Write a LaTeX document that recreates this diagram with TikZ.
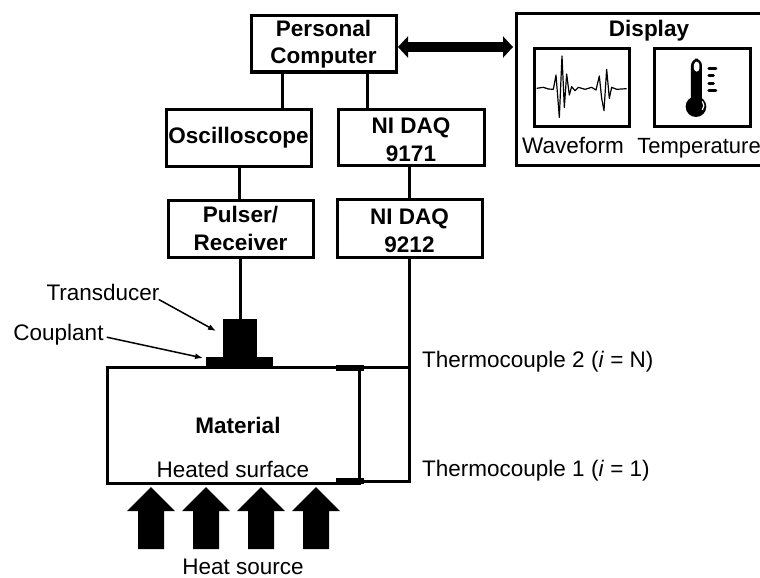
\documentclass[tikz,border=0pt]{standalone}
\usepackage{fontspec}
\setmainfont{Liberation Sans}
\usetikzlibrary{arrows.meta, calc}
\tikzset{
    lbl/.style={inner sep=0pt, font=\fontsize{22.5}{27}\selectfont, align=center},
    boxlbl/.style={lbl, font=\fontsize{22.5}{27}\selectfont\bfseries},
    blockbox/.style={draw, line width=3pt, fill=white, outer sep=0pt, inner sep=0pt, align=center, font=\fontsize{22.5}{27.5}\selectfont\bfseries},
    panelbox/.style={draw, line width=3pt, outer sep=0pt},
    wire/.style={line width=3pt},
    pointer/.style={line width=1.5pt, -{Latex[length=8pt,width=6pt]}},
    solidpart/.style={fill=black, inner sep=0pt, outer sep=0pt}
}
\begin{document}
\begin{tikzpicture}[x=1pt, y=-1pt]
    \clip (0,0) rectangle (760,578);
    % Instruments
    \node[blockbox, minimum width=145pt, minimum height=56pt] (pc) at (323.5,44) {Personal\\Computer};
    \node[blockbox, minimum width=145pt, minimum height=57pt] (osc) at (238.5,137.5) {Oscilloscope};
    \node[blockbox, minimum width=146pt, minimum height=56pt] (daqa) at (411,137) {\rule{0pt}{21pt}NI DAQ\\9171};
    \node[blockbox, minimum width=145pt, minimum height=57pt] (pulser) at (240.5,228.5) {Pulser/\\Receiver};
    \node[blockbox, minimum width=145pt, minimum height=58pt] (daqb) at (409.5,228) {\rule{0pt}{21pt}NI DAQ\\9212};
    % Display panel
    \node[panelbox, minimum width=256pt, minimum height=151pt] (display) at (644,89.5) {};
    \node[boxlbl, anchor=base] (displaytxt) at (649,37) {Display};
    \node[panelbox, minimum width=95pt, minimum height=77pt] (wavebox) at (581.5,87.5) {};
    \node[panelbox, minimum width=96pt, minimum height=77pt] (tempbox) at (702,87.5) {};
    \node[lbl, anchor=base] (wavetxt) at (573,153) {Waveform};
    \node[lbl, anchor=base, font=\fontsize{22}{27}\selectfont] (temptxt) at (699,153) {Temperature};
    % Waveform trace
    \begin{scope}[shift={(510,0)}, x=0.3333pt, y=-0.3333pt]
        \draw[line width=1.2pt, line join=round] (80,265) -- (100,262) -- (115,267) -- (130,268) -- (138,225) -- (148,352) -- (156,168) -- (163,322) -- (170,222) -- (178,285) -- (185,260) -- (195,272) -- (205,262) -- (225,268) -- (245,262) -- (258,270) -- (268,228) -- (275,295) -- (282,332) -- (290,208) -- (298,295) -- (305,262) -- (320,268) -- (350,266);
        % Thermometer
        \fill (558,320) circle (31);
        \fill[rounded corners=7pt] (543,320) -- (543,176) -- (576,176) -- (576,320) -- cycle;
        \fill[white, rounded corners=3pt] (552,215) -- (552,185) -- (568,185) -- (568,215) -- cycle;
        \draw[white, line width=1.2pt] (577,304) arc (-40:40:20);
        \foreach \ytick/\xend in {205/618, 228/610, 250/610, 272/618}
            \draw[line width=3pt, line cap=round] (597,\ytick) -- (\xend,\ytick);
    \end{scope}
    % Sample
    \node[panelbox, minimum width=252pt, minimum height=116pt] (material) at (233,425) {};
    \node[boxlbl, anchor=base] (materialtxt) at (238,433) {Material};
    \node[lbl, anchor=base] (heatedtxt) at (233,477) {Heated surface};
    \node[solidpart, minimum width=67pt, minimum height=10pt] (couplant) at (239.5,362) {};
    \node[solidpart, minimum width=34pt, minimum height=38pt] (transducer) at (240,338) {};
    \node[solidpart, minimum width=28pt, minimum height=6pt] (tcb) at (350,367.5) {};
    \node[solidpart, minimum width=28pt, minimum height=6pt] (tca) at (350,481) {};
    % Heat arrows
    \foreach \xarr in {151,206,261,316}
        \fill (\xarr,487) -- (\xarr+24,511) -- (\xarr+13,511) -- (\xarr+13,549) -- (\xarr-13,549) -- (\xarr-13,511) -- (\xarr-24,511) -- cycle;
    % Labels
    \node[lbl, anchor=base west] (tcbtxt) at (422,367) {Thermocouple 2 (\textit{i} = N)};
    \node[lbl, anchor=base west] (tcatxt) at (422,476) {Thermocouple 1 (\textit{i} = 1)};
    \node[lbl, anchor=base] (transtxt) at (103,300) {Transducer};
    \node[lbl, anchor=base] (couptxt) at (58.5,340) {Couplant};
    \node[lbl, anchor=base] (heattxt) at (243,574) {Heat source};
    % Connectors
    \coordinate (pca) at (282,0);
    \coordinate (pcb) at (367,0);
    \coordinate (osca) at (239,0);
    \coordinate (arrowy) at (0,47);
    \coordinate (transend) at (216,331);
    \coordinate (coupend) at (203,358);
    \draw[wire] (pc.south -| pca) -- (osc.north -| pca);
    \draw[wire] (pc.south -| pcb) -- (daqa.north -| pcb);
    \draw[wire] (osc.south -| osca) -- (pulser.north -| osca);
    \draw[wire] (daqa.south -| daqb.north) -- (daqb.north);
    \draw[wire] (pulser.south -| transducer.north) -- (transducer.north);
    \draw[wire] (daqb.south) |- (tca.east);
    \draw[wire] (tcb.east) -- (tcb.east -| daqb.south);
    \draw[line width=10pt, {Triangle[length=10pt,width=21pt]}-{Triangle[length=10pt,width=21pt]}, shorten <=2pt, shorten >=3pt] (pc.east |- arrowy) -- (display.west |- arrowy);
    \draw[pointer] (transtxt.south east) ++(-1,-1) -- (transend);
    \draw[pointer] (couptxt.east) ++(3,3) -- (coupend);
\end{tikzpicture}
\end{document}
